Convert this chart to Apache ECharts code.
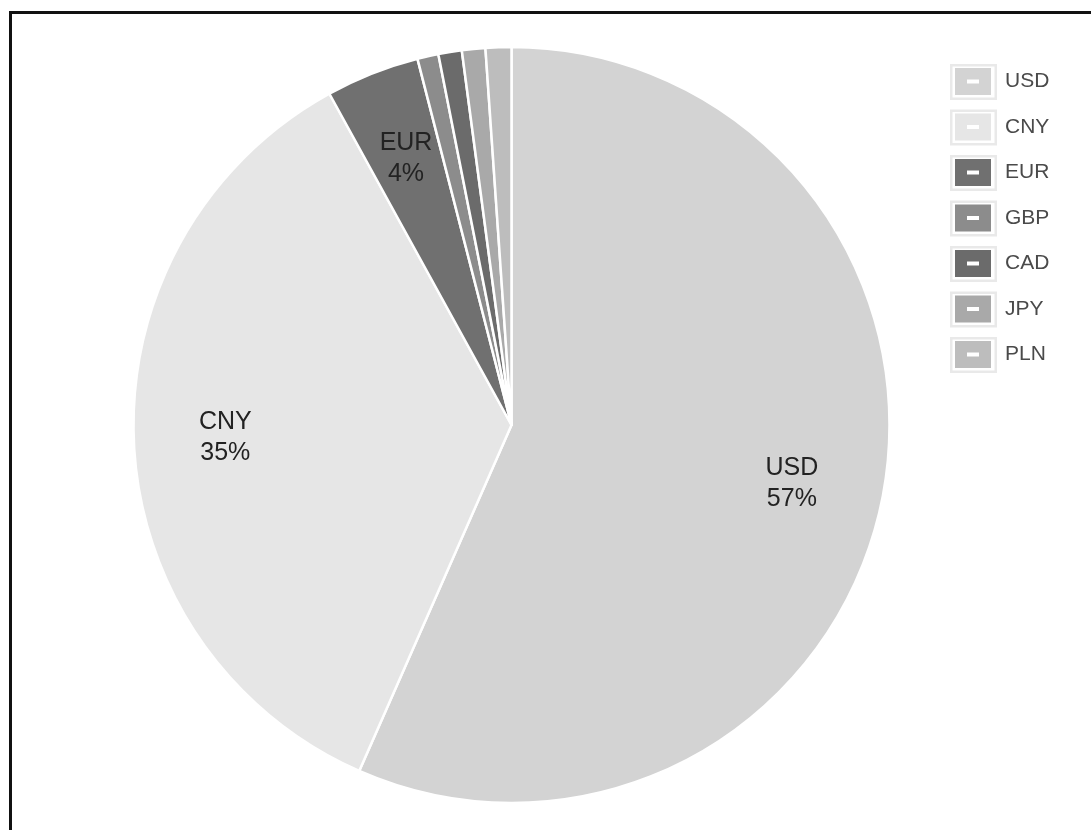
<!DOCTYPE html>
<html>
<head>
<meta charset="utf-8">
<script src="https://cdn.jsdelivr.net/npm/echarts@6/dist/echarts.min.js"></script>
<style>
    html, body { margin: 0; padding: 0; background: #fff; }
    #frame {
        position: absolute; left: 9px; top: 11px; right: 0; bottom: 0;
        border-top: 3px solid #111; border-left: 3px solid #111;
    }
    #myChart { position: absolute; left: 0; top: 0; width: 1091px; height: 830px; }
</style>
</head>
<body>
<div id="frame"></div>
<div id="myChart"></div>
<script>
// currency share data
var currencies = ['USD', 'CNY', 'EUR', 'GBP', 'CAD', 'JPY', 'PLN'];
var shares = [56.6, 35.4, 4.0, 0.9, 1.0, 1.0, 1.1];
var colors = ['#d3d3d3', '#e6e6e6', '#707070', '#8c8c8c', '#6b6b6b', '#a9a9a9', '#bdbdbd'];

var pieData = [];
var labelData = [];
for (var i = 0; i < currencies.length; i++) {
    pieData.push({value: shares[i], name: currencies[i], itemStyle: {color: colors[i]}});
    labelData.push({value: shares[i], name: currencies[i], label: {show: shares[i] >= 2}});
}

var myChart = echarts.init(document.getElementById("myChart"));
var option = {
    animation: false,
    legend: [
        { // light frame behind each legend key
            left: 950,
            top: 64,
            padding: 0,
            orient: 'vertical',
            itemWidth: 47,
            itemHeight: 36,
            itemGap: 9.5,
            icon: 'path://M0,0H47V36H0Z M2.5,2.5V33.5H44.5V2.5Z',
            itemStyle: {color: '#e9e9e9', borderWidth: 0},
            textStyle: {color: 'rgba(0,0,0,0)', fontSize: 20},
            data: currencies
        },
        {
            left: 955,
            top: 68,
            padding: 0,
            orient: 'vertical',
            itemWidth: 36,
            itemHeight: 27,
            itemGap: 18.5,
            icon: 'path://M0,0H36V27H0Z M12,11.5V15.5H24V11.5Z',
            itemStyle: {borderWidth: 0},
            textStyle: {
                color: '#4a4a4a',
                fontSize: 21,
                fontFamily: 'Liberation Sans',
                padding: [0, 0, 0, 9]
            },
            data: currencies
        }
    ],
    series: [
        {
            name: 'share',
            type: 'pie',
            center: [511.5, 425],
            radius: [0, 378],
            startAngle: 90,
            clockwise: true,
            itemStyle: {borderColor: '#fff', borderWidth: 2.5},
            label: {show: false},
            labelLine: {show: false},
            emphasis: {disabled: true},
            data: pieData
        },
        { // transparent ring, only used to place the labels further out
            name: 'labels',
            type: 'pie',
            center: [511.5, 425],
            radius: [189, 378],
            startAngle: 90,
            clockwise: true,
            silent: true,
            percentPrecision: 0,
            itemStyle: {color: 'rgba(0,0,0,0)', borderWidth: 0},
            label: {
                position: 'inside',
                formatter: '{b}\n{d}%',
                color: '#222',
                fontSize: 25,
                lineHeight: 31,
                fontFamily: 'Liberation Sans'
            },
            labelLine: {show: false},
            emphasis: {disabled: true},
            data: labelData
        }
    ]
};
myChart.setOption(option);
</script>
</body>
</html>
